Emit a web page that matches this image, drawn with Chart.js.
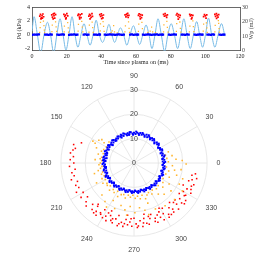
<!DOCTYPE html>
<html>
<head>
<meta charset="utf-8">
<script src="https://cdn.jsdelivr.net/npm/chart.js@4"></script>
<style>
  html, body { margin: 0; padding: 0; background: #fff; overflow: hidden; }
  #box-time { position: absolute; left: 0; top: 0; width: 269px; height: 68px; }
  #box-polar { position: absolute; left: 0; top: 73px; width: 269px; height: 182px; }
</style>
</head>
<body>
<div id="box-time"><canvas id="chart-time"></canvas></div>
<div id="box-polar"><canvas id="chart-polar"></canvas></div>
<script>
// Colores
const colorLine = '#78bbe6';
const colorBlue = '#0000ff';
const colorOrange = '#ffb52e';
const colorRed = '#ff0000';
const colorAxis = '#444444';
const colorGrid = '#e2e2e2';

// --- Panel superior: presion Pd (kPa) vs tiempo (ms), puntos de control
const pressT = [0, 1.2, 3.1, 5.0, 6.95, 8.9, 10.7, 12.5, 14.35, 16.2, 17.9, 19.6, 21.35, 23.1, 24.8, 26.5,
  28.25, 30.0, 31.75, 33.5, 35.25, 37.0, 38.85, 40.7, 42.55, 44.4, 46.05, 47.7, 49.35, 51.0, 52.85, 54.7,
  56.6, 58.5, 60.3, 62.1, 63.95, 65.8, 67.5, 69.2, 70.95, 72.7, 74.6, 76.5, 78.4, 80.3, 82.15, 84.0,
  85.8, 87.6, 89.45, 91.3, 93.15, 95.0, 96.7, 98.4, 100.1, 101.8, 103.65, 105.5, 107.4, 109.3, 111.3];
const pressP = [0.5, 2.6, 0, -2.6, 0, 1.8, 0, -2.6, 0, 2.3, 0, -2.2, 0, 2.6, 0, -1.8,
  0, 1.6, 0, -1.5, 0, 2.1, 0, -1.1, 0, 1.5, 0, -1.1, 0, 1.0, 0, -1.5,
  0, 1.3, 0, -1.4, 0, 1.4, 0, -2.0, 0, 2.3, 0, -2.4, 0, 1.6, 0, -2.0,
  0, 2.3, 0, -2.0, 0, 1.9, 0, -1.8, 0, 2.4, 0, -1.8, 0, 1.6, -0.2];

// Wp (mJ) por fase: [t (ms), Wp]
const wpBlue = [
  [0, 10.9], [1, 11.0], [2, 11.1], [3, 11.0], [4, 11.2],
  [7.6, 11.0], [8.6, 11.1], [9.6, 10.9], [10.6, 11.2], [11.4, 11.0],
  [14.6, 11.1], [15.6, 10.9], [16.6, 11.0], [17.6, 11.2], [18.4, 11.0],
  [21.4, 10.9], [22.4, 11.1], [23.4, 11.0], [24.4, 11.2], [25.4, 10.9], [26.2, 11.1],
  [29.8, 11.0], [30.8, 11.2], [31.8, 10.9], [32.6, 11.1],
  [35.8, 11.0], [36.8, 11.1], [37.8, 10.9], [38.8, 11.2], [39.2, 11.0],
  [42, 11.1], [43, 10.9], [44, 11.0], [45, 11.2], [46, 11.0], [47, 11.1], [48, 10.9], [49, 11.0],
  [50, 11.2], [51, 11.0], [52, 10.9], [53, 11.1],
  [56.6, 11.0], [57.6, 11.2], [58.6, 10.9], [59.6, 11.1], [60.6, 11.0], [61.2, 11.1],
  [64, 11.0], [65, 10.9], [66, 11.1], [67, 11.2], [68, 11.0], [69, 10.9], [70, 11.1], [71, 11.0],
  [72, 11.2], [73, 10.9], [74, 11.0], [75, 11.1], [75.6, 11.0],
  [79, 11.1], [80, 10.9], [81, 11.0], [82, 11.2], [83, 11.0],
  [86.4, 11.0], [87.4, 11.1], [88.4, 10.9], [89.4, 11.2], [90.4, 11.0],
  [93.8, 11.1], [94.8, 10.9], [95.8, 11.0], [96.8, 11.2], [97.8, 11.0], [98.4, 11.1],
  [101.2, 11.0], [102.2, 11.1], [103.2, 10.9], [104.2, 11.2], [105.0, 11.0],
  [108.2, 11.1], [109.2, 10.9], [110.2, 11.0], [111.0, 11.1]
];
const wpOrange = [
  [4.4, 12.6], [4.7, 15.8], [4.9, 19.4], [6.6, 20.3], [6.9, 17.2], [7.1, 14.1], [7.3, 12.4],
  [11.5, 13.1], [11.7, 17.6], [13.6, 19.8], [13.9, 16.4], [14.2, 13.3],
  [18.6, 12.9], [18.7, 16.9], [20.6, 19.2], [20.9, 15.6], [21.1, 12.7],
  [26.6, 13.4], [26.8, 18.0], [28.7, 20.1], [29.0, 16.2], [29.3, 13.0],
  [32.9, 12.8], [33.1, 17.5], [34.7, 19.6], [35.0, 15.9], [35.3, 12.5],
  [39.4, 13.6], [39.5, 18.4], [41.0, 20.0], [41.3, 16.7], [41.6, 13.2],
  [45.6, 12.4], [46.3, 13.6], [47.1, 17.2], [47.6, 13.0], [49.2, 12.3],
  [53.6, 12.9], [53.9, 17.1], [55.7, 19.8], [56.0, 15.4], [56.3, 12.6],
  [61.4, 13.3], [61.6, 18.3], [63.4, 19.4], [63.7, 15.1],
  [66.8, 12.5], [68.2, 13.4], [69.0, 16.2], [69.6, 12.9], [71.3, 12.4],
  [75.9, 13.0], [76.1, 17.8], [77.8, 20.2], [78.1, 16.0], [78.5, 12.8],
  [83.3, 13.2], [83.5, 18.6], [85.3, 19.7], [85.6, 15.3], [85.9, 12.7],
  [90.8, 12.9], [91.1, 16.8], [92.8, 20.4], [93.1, 16.6], [93.4, 13.1],
  [98.8, 13.4], [99.0, 18.2], [100.6, 19.1], [100.9, 15.7], [101.1, 12.6],
  [105.5, 13.0], [105.7, 17.4], [107.5, 20.6], [107.7, 18.7], [107.9, 15.2], [108.1, 12.8]
];
const wpRed = [
  [4.5, 23.8], [4.9, 24.9], [5.4, 22.6], [5.8, 24.1], [6.3, 25.2], [6.7, 23.3], [5.2, 21.8], [6.0, 22.4],
  [11.4, 24.6], [11.8, 23.1], [12.3, 25.3], [12.7, 24.0], [13.1, 22.4], [13.6, 24.7], [12.2, 21.9], [12.9, 25.6],
  [18.4, 25.0], [18.9, 23.6], [19.3, 24.4], [19.7, 22.5], [20.1, 25.4], [20.6, 23.9], [19.5, 21.8],
  [26.5, 24.3], [26.9, 25.1], [27.4, 23.0], [27.8, 24.6], [28.3, 22.7], [28.7, 25.3], [27.5, 21.9],
  [32.8, 23.7], [33.2, 25.0], [33.7, 24.2], [34.1, 22.9], [34.6, 25.4], [33.5, 21.8], [34.9, 23.5],
  [39.1, 24.8], [39.6, 23.5], [40.0, 25.3], [40.4, 24.0], [40.9, 22.6], [40.2, 22.0], [41.2, 24.5],
  [53.7, 24.6], [54.2, 23.2], [54.6, 25.1], [55.0, 24.0], [55.5, 22.8], [55.2, 25.6], [55.9, 24.3],
  [61.4, 24.2], [61.8, 25.3], [62.3, 23.4], [62.7, 24.8], [63.2, 22.7], [62.5, 21.9], [63.6, 24.4],
  [75.9, 24.9], [76.4, 23.8], [76.8, 25.4], [77.3, 24.1], [77.7, 22.9], [78.1, 24.6],
  [83.3, 24.5], [83.7, 25.5], [84.2, 23.6], [84.6, 24.8], [85.1, 22.8], [84.4, 21.7], [85.5, 24.2],
  [91.0, 25.0], [91.4, 23.9], [91.9, 24.6], [92.3, 22.7], [92.0, 21.8], [92.8, 24.3],
  [99.0, 23.4], [99.5, 24.8], [100.0, 23.9], [100.4, 22.3], [100.8, 24.6],
  [105.5, 24.9], [105.9, 23.6], [106.4, 25.4], [106.8, 24.2], [107.3, 23.0], [106.5, 22.2], [107.7, 24.8]
];
const timeTicks = [0, 20, 40, 60, 80, 100, 120];
const pressTicks = [-2, 0, 2, 4];
const wpTicks = [0, 10, 20, 30];

// --- Panel inferior (polar): [angulo (grados), Wp (mJ)]
const polarBlue = [
  [0, 12.3], [3, 11.8], [6, 12.5], [9, 12.0], [12, 12.6], [15, 11.9], [18, 12.4], [21, 12.1], [24, 12.7], [27, 12.0],
  [30, 12.3], [33, 11.8], [36, 12.5], [39, 12.2], [42, 12.6], [45, 11.9], [48, 12.4], [51, 12.0], [54, 12.6], [57, 12.2],
  [60, 12.5], [63, 11.9], [66, 12.7], [69, 12.1], [72, 12.4], [75, 12.0], [78, 12.6], [81, 12.2], [84, 12.5], [87, 11.9],
  [90, 12.4], [93, 12.1], [96, 12.7], [99, 12.0], [102, 12.5], [105, 12.2], [108, 12.6], [111, 11.9], [114, 12.4], [117, 12.1],
  [120, 12.6], [123, 12.0], [126, 12.4], [129, 12.2], [132, 12.7], [135, 11.9], [138, 12.5], [141, 12.1], [144, 12.4], [147, 12.0],
  [150, 12.6], [153, 12.2], [156, 12.5], [159, 11.9], [162, 12.4], [165, 12.1], [168, 12.6], [171, 12.0], [174, 12.4], [177, 12.2],
  [180, 12.5], [183, 11.9], [186, 12.3], [189, 12.1], [192, 12.6], [195, 11.8], [198, 12.4], [201, 12.0], [204, 12.5], [207, 11.9],
  [210, 12.3], [213, 11.7], [216, 12.4], [219, 11.9], [222, 12.2], [225, 11.6], [228, 12.3], [231, 11.8], [234, 12.1], [237, 11.5],
  [240, 12.2], [243, 11.7], [246, 12.0], [249, 11.5], [252, 11.9], [255, 11.6], [258, 12.1], [261, 11.4], [264, 11.8], [267, 11.6],
  [270, 12.0], [273, 11.5], [276, 11.9], [279, 11.6], [282, 12.0], [285, 11.4], [288, 11.8], [291, 11.6], [294, 12.1], [297, 11.5],
  [300, 11.9], [303, 11.7], [306, 12.2], [309, 11.8], [312, 12.3], [315, 11.9], [318, 12.4], [321, 12.0], [324, 12.5], [327, 12.1],
  [330, 12.3], [333, 11.9], [336, 12.6], [339, 12.2], [342, 12.4], [345, 12.0], [348, 12.5], [351, 12.1], [354, 12.6], [357, 11.9],
  [2, 12.8], [8, 11.7], [14, 12.9], [20, 11.6], [26, 12.8], [32, 11.7], [38, 12.9], [44, 11.6], [50, 12.8], [56, 11.7],
  [62, 12.9], [68, 11.6], [74, 12.8], [80, 11.7], [86, 12.9], [92, 11.6], [98, 12.8], [104, 11.7], [110, 12.9], [116, 11.6],
  [122, 12.8], [128, 11.7], [134, 12.9], [140, 11.6], [146, 12.8], [152, 11.7], [158, 12.9], [164, 11.6], [170, 12.8], [176, 11.7],
  [182, 12.9], [188, 11.6], [194, 12.8], [200, 11.7], [206, 12.9], [212, 11.6], [218, 12.7], [224, 11.5], [230, 12.6], [236, 11.4],
  [242, 12.5], [248, 11.3], [254, 12.4], [260, 11.3], [266, 12.3], [272, 11.3], [278, 12.4], [284, 11.3], [290, 12.4], [296, 11.4],
  [302, 12.5], [308, 11.5], [314, 12.7], [320, 11.6], [326, 12.8], [332, 11.7], [338, 12.9], [344, 11.6], [350, 12.8], [356, 11.7],
  [100, 11.7], [115, 12.8], [130, 11.8], [145, 12.8], [160, 11.7], [175, 12.8], [190, 11.7], [205, 12.8], [140, 11.4], [170, 11.4]
];
const polarOrange = [
  [140, 13.4], [146, 14.8], [150, 13.1], [153, 17.9], [147, 17.2], [156, 13.6], [160, 14.2], [163, 13.2], [166, 15.1], [170, 13.5],
  [173, 14.0], [176, 13.3], [180, 13.8], [183, 14.4], [186, 13.2], [189, 13.9], [192, 15.0], [196, 13.4], [199, 14.1], [203, 13.3],
  [206, 14.6], [210, 13.6], [213, 15.2], [217, 13.9], [152, 19.1], [144, 16.3], [158, 16.6], [175, 16.0], [195, 16.8], [208, 17.4],
  [220, 14.3], [224, 13.5], [228, 15.0], [232, 13.8], [236, 14.6], [240, 13.4], [244, 15.3], [248, 14.0], [252, 13.6], [256, 14.8],
  [260, 13.4], [264, 14.1], [268, 13.2], [272, 14.5], [276, 13.7], [280, 14.9], [284, 13.6], [288, 15.4], [292, 14.2], [296, 13.5],
  [225, 18.6], [233, 19.8], [241, 17.6], [247, 20.3], [253, 18.2], [259, 19.6], [265, 17.9], [271, 20.4], [277, 18.5], [283, 19.9],
  [289, 17.4], [295, 20.8], [238, 21.3], [262, 21.6], [286, 22.0],
  [300, 14.7], [304, 13.4], [308, 16.2], [311, 14.0], [314, 17.8], [317, 13.6], [320, 15.4], [323, 19.0], [326, 14.3], [329, 16.8],
  [332, 13.5], [335, 20.5], [338, 15.6], [341, 13.8], [344, 18.2], [347, 14.6], [350, 16.9], [353, 13.4], [356, 15.8], [359, 21.4],
  [2, 14.1], [5, 17.3], [8, 13.6], [11, 15.9], [14, 13.3], [18, 14.8], [306, 21.7], [318, 22.4], [330, 22.9], [342, 21.0],
  [352, 19.5], [3, 19.8]
];
const polarRed = [
  [159, 23.1], [163, 25.9], [166, 24.8], [168, 25.6], [171, 26.4], [174, 25.0], [177, 26.2], [180, 24.7], [183, 26.5], [186, 24.3],
  [189, 25.8], [192, 25.1], [195, 26.6], [198, 24.4], [201, 25.6], [204, 24.8], [207, 26.5], [210, 24.1], [213, 25.9], [216, 23.6],
  [219, 25.3], [222, 26.4], [225, 24.0], [228, 25.7], [230, 23.2], [232, 25.2], [234, 26.5], [236, 24.6], [238, 22.6], [240, 25.9],
  [242, 24.7], [244, 26.3], [246, 23.6], [248, 25.4], [250, 26.1], [252, 24.1], [254, 22.4], [256, 25.7], [258, 24.9], [260, 26.4],
  [262, 23.4], [264, 25.5], [266, 24.3], [268, 26.0], [270, 22.7], [272, 25.0], [274, 25.9], [276, 23.8], [278, 26.3], [280, 23.1],
  [282, 25.3], [284, 25.9], [286, 23.7], [288, 22.2], [290, 25.5], [292, 26.2], [294, 23.4], [296, 24.8], [298, 26.4], [300, 24.0],
  [302, 21.9], [304, 25.4], [306, 26.1], [308, 23.3], [310, 24.7], [312, 21.8], [314, 26.3], [316, 24.3], [318, 22.6], [320, 25.5],
  [322, 23.8], [324, 26.2], [326, 22.4], [328, 25.0], [330, 23.4], [332, 26.4], [334, 24.2], [336, 22.1], [338, 25.4], [340, 26.1],
  [342, 23.6], [344, 24.8], [346, 26.5], [348, 24.3], [350, 25.6],
  [231, 26.3], [237, 25.1], [243, 23.0], [249, 24.5], [255, 26.6], [261, 25.2], [267, 22.9], [273, 26.5], [279, 24.9], [285, 22.7],
  [291, 24.3], [297, 22.5], [303, 26.5], [309, 25.9], [315, 22.9], [321, 26.6], [327, 24.6], [335, 25.8], [229, 22.4], [245, 21.7],
  [263, 21.6], [281, 21.4], [299, 21.2]
];
const angleTicks = [0, 30, 60, 90, 120, 150, 180, 210, 240, 270, 300, 330];
const radiusTicks = [0, 10, 20, 30];

const serif = { family: "'Liberation Serif', 'DejaVu Serif', serif", size: 6 };
const sans = { family: "'Liberation Sans', Arial, sans-serif", size: 7 };

const toXY = pts => pts.map(p => ({ x: p[0], y: p[1] }));

// Titulo del eje derecho, girado como en MATLAB (se lee de abajo hacia arriba)
const rightTitle = {
    id: 'rightTitle',
    afterDraw(chart) {
        const { ctx, chartArea, scales } = chart;
        ctx.save();
        ctx.translate(scales.y2.right - 18, (chartArea.top + chartArea.bottom) / 2);
        ctx.rotate(-Math.PI / 2);
        ctx.font = "6px 'Liberation Serif', serif";
        ctx.fillStyle = '#444';
        ctx.textAlign = 'center';
        ctx.textBaseline = 'middle';
        ctx.fillText('Wp (mJ)', 0, 0);
        ctx.restore();
    }
};

// 1. Serie temporal
new Chart(document.getElementById('chart-time'), {
    type: 'scatter',
    data: {
        datasets: [
            {
                data: pressT.map((t, i) => ({ x: t, y: pressP[i] })),
                yAxisID: 'y', showLine: true, borderColor: colorLine, borderWidth: 1,
                pointRadius: 0, cubicInterpolationMode: 'monotone', order: 5
            },
            { data: toXY(wpOrange), yAxisID: 'y2', pointStyle: 'rect', pointRadius: 0.9, backgroundColor: colorOrange, borderWidth: 0, order: 3 },
            { data: toXY(wpRed), yAxisID: 'y2', pointStyle: 'rect', pointRadius: 1.2, backgroundColor: colorRed, borderWidth: 0, order: 2 },
            { data: toXY(wpBlue), yAxisID: 'y2', pointStyle: 'rect', pointRadius: 1.6, backgroundColor: colorBlue, borderWidth: 0, order: 1 }
        ]
    },
    options: {
        animation: false, responsive: true, maintainAspectRatio: false, events: [],
        layout: { padding: { top: 7, left: 0, right: 0, bottom: 0 } },
        plugins: { legend: { display: false }, tooltip: { enabled: false } },
        scales: {
            x: {
                type: 'linear', min: 0, max: 120,
                afterBuildTicks: s => { s.ticks = timeTicks.map(v => ({ value: v })); },
                ticks: { font: serif, color: '#222', padding: 2, maxRotation: 0 },
                grid: { display: false, drawTicks: false },
                border: { color: colorAxis, width: 0.8 },
                title: { display: true, text: 'Time since plasma on (ms)', font: serif, color: '#222', padding: { top: 0, bottom: 2 } },
                afterFit: s => { s.height = 17.3; }
            },
            xTop: {
                type: 'linear', position: 'top', min: 0, max: 120,
                ticks: { display: false }, grid: { display: false, drawTicks: false },
                border: { color: colorAxis, width: 0.8 },
                afterFit: s => { s.height = 0; }
            },
            y: {
                position: 'left', min: -2.3, max: 4,
                afterBuildTicks: s => { s.ticks = pressTicks.map(v => ({ value: v })); },
                ticks: { font: serif, color: '#222', padding: 2 },
                grid: { display: false, drawTicks: false },
                border: { color: colorAxis, width: 0.8 },
                title: { display: true, text: 'Pd (kPa)', font: serif, color: '#222', padding: { top: 16, bottom: 0 } },
                afterFit: s => { s.width = 32; }
            },
            y2: {
                position: 'right', min: 0, max: 30,
                afterBuildTicks: s => { s.ticks = wpTicks.map(v => ({ value: v })); },
                ticks: { font: serif, color: '#444', padding: 2 },
                grid: { display: false, drawTicks: false },
                border: { color: colorAxis, width: 0.8 },
                afterFit: s => { s.width = 29; }
            }
        }
    },
    plugins: [rightTitle]
});

// 2. Diagrama polar (radar con una categoria por grado, 0 a la derecha, sentido antihorario)
const angleBins = [];
for (let i = 0; i < 360; i++) angleBins.push((450 - i) % 360);

function toRadarLayers(points) {
    const layers = [];
    points.forEach(([theta, r]) => {
        const idx = (450 - Math.round(theta)) % 360;
        let layer = layers.find(l => l[idx] === null);
        if (!layer) { layer = new Array(360).fill(null); layers.push(layer); }
        layer[idx] = r;
    });
    return layers;
}

const polarDatasets = [];
[[polarBlue, colorBlue, 1.4, 1], [polarOrange, colorOrange, 1.1, 2], [polarRed, colorRed, 1.1, 3]].forEach(([pts, color, rad, order]) => {
    toRadarLayers(pts).forEach(layer => {
        polarDatasets.push({
            data: layer, showLine: false, fill: false, borderWidth: 0, backgroundColor: 'rgba(0,0,0,0)',
            pointStyle: 'rect', pointRadius: rad, pointBorderWidth: 0,
            pointBackgroundColor: color, order: order
        });
    });
});

new Chart(document.getElementById('chart-polar'), {
    type: 'radar',
    data: { labels: angleBins, datasets: polarDatasets },
    options: {
        animation: false, responsive: true, maintainAspectRatio: false, events: [],
        plugins: { legend: { display: false }, tooltip: { enabled: false } },
        scales: {
            r: {
                min: -0.01, max: 30, startAngle: 0,
                afterBuildTicks: s => { s.ticks = [{ value: -0.01 }].concat(radiusTicks.slice(1).map(v => ({ value: v }))); },
                ticks: { font: sans, color: '#444', showLabelBackdrop: false, callback: v => String(Math.max(0, Math.round(v))) },
                grid: { circular: true, color: colorGrid, lineWidth: 0.8 },
                angleLines: {
                    color: ctx => angleTicks.includes(angleBins[ctx.index]) ? colorGrid : null,
                    lineWidth: 0.8
                },
                pointLabels: {
                    font: sans, color: '#444', padding: 4,
                    callback: lbl => angleTicks.includes(lbl) ? String(lbl) : ''
                }
            }
        }
    }
});
</script>
</body>
</html>
